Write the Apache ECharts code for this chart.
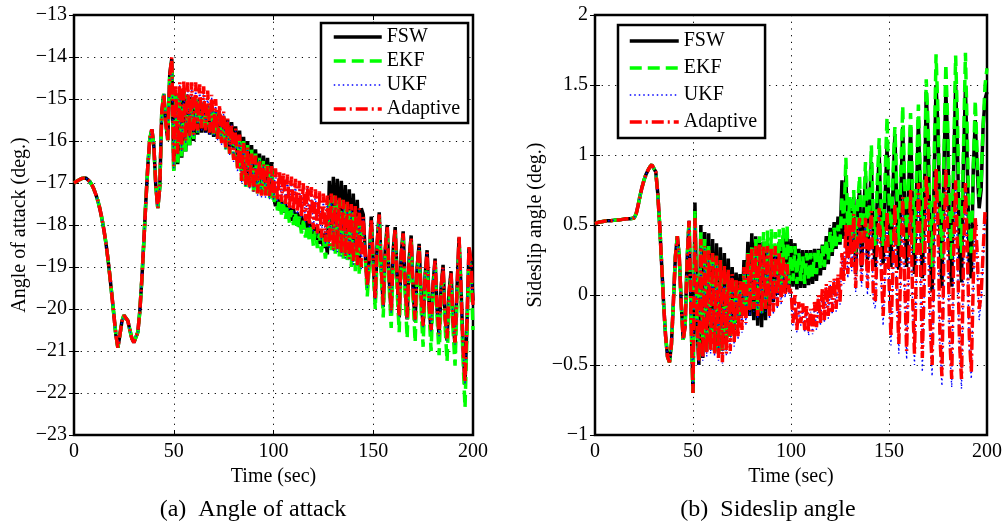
<!DOCTYPE html>
<html>
<head>
<meta charset="utf-8">
<script src="https://cdn.jsdelivr.net/npm/echarts@6/dist/echarts.min.js"></script>
<style>
html,body{margin:0;padding:0;background:#fff;}
#chart{width:1005px;height:523px;}
</style>
</head>
<body>
<div id="chart"></div>
<script>
// ---------- DATA ----------
const seriesNames = ['FSW', 'EKF', 'UKF', 'Adaptive'];
const xTicks = [0, 50, 100, 150, 200];
const aoaTicks = [-23, -22, -21, -20, -19, -18, -17, -16, -15, -14, -13];
const betaTicks = [-1, -0.5, 0, 0.5, 1, 1.5, 2];

// time samples, 1 s steps 0..200
const time = Array.from({length: 201}, (_, i) => i);

// (a) angle of attack, t = 0..47 (all estimators coincide)
const aoaEarly = [
  -17.00, -16.97, -16.94, -16.91, -16.89, -16.88, -16.88, -16.91, -16.97, -17.05,
  -17.15, -17.28, -17.43, -17.62, -17.85, -18.12, -18.43, -18.80, -19.22, -19.68,
  -20.15, -20.62, -20.92, -20.62, -20.30, -20.15, -20.13, -20.28, -20.50, -20.70,
  -20.80, -20.78, -20.55, -20.05, -19.30, -18.40, -17.45, -16.60, -15.95, -15.72,
  -16.10, -17.05, -17.60, -17.10, -15.30, -14.88, -15.55, -15.98
];
// t = 48..200
const aoaFSW = [
  -14.40, -14.05,
  -16.70, -14.90, -16.55, -14.80, -16.40, -14.80, -16.25, -14.90, -16.10, -14.95,
  -16.00, -15.00, -15.85, -15.00, -15.80, -15.10, -15.80, -15.15, -15.85, -15.20,
  -15.90, -15.30, -15.95, -15.35, -16.00, -15.40, -16.10, -15.50, -16.15, -15.55,
  -16.20, -15.65, -16.50, -15.75, -16.70, -15.90, -16.85, -16.00, -16.95, -16.10,
  -17.05, -16.20, -17.15, -16.30, -17.20, -16.35, -17.25, -16.40, -17.30, -16.50,
  -17.30, -17.55, -17.35, -17.65, -17.40, -17.70, -17.50, -17.80, -17.55, -17.90,
  -17.60, -17.95, -17.70, -18.05, -17.75, -18.10, -17.85, -18.20, -17.90, -18.30,
  -18.00, -18.35, -18.05, -18.45, -18.15, -18.55, -18.20, -18.70, -16.95, -18.20,
  -16.85, -18.30, -16.90, -18.35, -16.95, -18.40, -17.05, -18.50, -17.15, -18.60,
  -17.25, -18.70, -17.40, -18.80, -17.60, -17.75, -18.70, -19.50, -18.80, -17.80,
  -18.90, -19.80, -18.40, -17.70, -19.00, -19.95, -18.60, -18.00, -19.30, -20.10,
  -18.60, -18.05, -19.30, -20.20, -18.70, -18.15, -19.40, -20.25, -18.80, -18.25,
  -19.60, -20.30, -19.00, -18.45, -19.70, -20.45, -19.20, -18.60, -19.90, -20.55,
  -19.40, -18.80, -20.00, -20.65, -19.50, -18.95, -20.20, -20.75, -19.60, -19.10,
  -20.30, -20.85, -19.50, -18.30, -19.50, -20.90, -21.80, -20.30, -18.55, -18.90,
  -19.80
];
const aoaEKF = [
  -14.45, -14.10,
  -16.75, -14.90, -16.55, -14.80, -16.40, -14.85, -16.25, -14.90, -16.10, -15.00,
  -15.95, -15.00, -15.80, -15.05, -15.75, -15.10, -15.70, -15.15, -15.75, -15.20,
  -15.85, -15.30, -15.95, -15.40, -16.05, -15.45, -16.20, -15.55, -16.30, -15.70,
  -16.40, -15.80, -16.70, -15.90, -16.95, -16.00, -17.10, -16.10, -17.15, -16.20,
  -17.20, -16.30, -17.25, -16.40, -17.30, -16.45, -17.35, -16.50, -17.40, -16.60,
  -17.50, -17.30, -17.65, -17.40, -17.75, -17.50, -17.85, -17.55, -17.95, -17.65,
  -18.00, -17.70, -18.10, -17.80, -18.20, -17.90, -18.30, -18.00, -18.40, -18.05,
  -18.50, -18.15, -18.55, -18.20, -18.65, -18.30, -18.80, -18.40, -17.40, -18.60,
  -17.30, -18.70, -17.35, -18.75, -17.40, -18.80, -17.50, -18.90, -17.60, -19.00,
  -17.70, -19.10, -17.80, -19.20, -17.90, -17.90, -18.80, -19.70, -19.00, -18.00,
  -19.10, -20.00, -18.70, -17.85, -19.20, -20.20, -18.80, -18.15, -19.50, -20.45,
  -18.90, -18.20, -19.60, -20.55, -19.00, -18.30, -19.70, -20.70, -19.10, -18.40,
  -19.80, -20.80, -19.30, -18.60, -20.00, -20.90, -19.40, -18.80, -20.10, -21.00,
  -19.60, -18.95, -20.20, -21.10, -19.80, -19.10, -20.40, -21.25, -19.90, -19.30,
  -20.50, -21.35, -19.80, -18.50, -19.80, -21.20, -22.35, -20.60, -18.80, -19.10,
  -20.50
];
const aoaUKF = [
  -14.50, -14.05,
  -16.65, -14.75, -16.35, -14.65, -16.25, -14.60, -16.05, -14.65, -15.95, -14.70,
  -15.90, -14.65, -15.80, -14.70, -15.75, -14.75, -15.80, -14.85, -15.85, -14.95,
  -15.90, -15.05, -16.00, -15.20, -16.10, -15.35, -16.20, -15.50, -16.35, -15.60,
  -16.50, -15.75, -16.75, -15.90, -17.00, -16.05, -17.10, -16.20, -17.15, -16.30,
  -17.25, -16.40, -17.30, -16.45, -17.35, -16.55, -17.35, -16.65, -17.40, -16.65,
  -17.40, -16.70, -17.45, -16.75, -17.50, -16.80, -17.55, -16.85, -17.65, -16.90,
  -17.70, -16.95, -17.75, -17.00, -17.85, -17.05, -17.95, -17.10, -18.05, -17.15,
  -18.15, -17.20, -18.25, -17.25, -18.35, -17.30, -18.45, -17.35, -18.55, -17.30,
  -18.65, -17.35, -18.65, -17.40, -18.75, -17.45, -18.80, -17.50, -18.85, -17.55,
  -18.95, -17.60, -19.00, -17.65, -19.05, -17.85, -18.75, -19.50, -18.85, -17.90,
  -18.95, -19.80, -18.45, -17.80, -19.05, -19.95, -18.65, -18.10, -19.35, -20.10,
  -18.65, -18.15, -19.35, -20.20, -18.75, -18.25, -19.45, -20.25, -18.85, -18.35,
  -19.65, -20.30, -19.05, -18.55, -19.75, -20.45, -19.25, -18.70, -19.95, -20.55,
  -19.45, -18.90, -20.05, -20.65, -19.55, -19.05, -20.25, -20.75, -19.65, -19.20,
  -20.35, -20.85, -19.55, -18.30, -19.55, -20.95, -21.80, -20.35, -18.55, -18.95,
  -19.95
];
const aoaAdaptive = [
  -14.45, -14.00,
  -16.60, -14.70, -16.30, -14.60, -16.20, -14.55, -16.00, -14.60, -15.90, -14.60,
  -15.85, -14.60, -15.75, -14.65, -15.70, -14.70, -15.75, -14.80, -15.80, -14.90,
  -15.85, -15.00, -15.95, -15.15, -16.05, -15.30, -16.15, -15.45, -16.30, -15.60,
  -16.45, -15.70, -16.70, -15.85, -16.95, -16.05, -17.05, -16.15, -17.10, -16.30,
  -17.20, -16.35, -17.25, -16.45, -17.30, -16.55, -17.30, -16.60, -17.35, -16.60,
  -17.35, -16.65, -17.40, -16.70, -17.45, -16.75, -17.50, -16.80, -17.60, -16.85,
  -17.65, -16.90, -17.70, -16.95, -17.80, -17.00, -17.90, -17.05, -18.00, -17.10,
  -18.10, -17.15, -18.20, -17.20, -18.30, -17.25, -18.40, -17.30, -18.50, -17.25,
  -18.60, -17.30, -18.60, -17.35, -18.70, -17.40, -18.75, -17.45, -18.80, -17.50,
  -18.90, -17.55, -18.95, -17.60, -19.00, -17.80, -18.70, -19.45, -18.80, -17.85,
  -18.90, -19.75, -18.40, -17.75, -19.00, -19.90, -18.60, -18.05, -19.30, -20.05,
  -18.60, -18.10, -19.30, -20.15, -18.70, -18.20, -19.40, -20.20, -18.80, -18.30,
  -19.60, -20.25, -19.00, -18.50, -19.70, -20.40, -19.20, -18.65, -19.90, -20.50,
  -19.40, -18.85, -20.00, -20.60, -19.50, -19.00, -20.20, -20.70, -19.60, -19.15,
  -20.30, -20.80, -19.50, -18.28, -19.50, -20.90, -21.75, -20.30, -18.50, -18.90,
  -19.90
];

// (b) sideslip angle, t = 0..50 (all estimators coincide)
const betaEarly = [
  0.510, 0.515, 0.520, 0.515, 0.525, 0.520, 0.530, 0.525, 0.530, 0.525,
  0.535, 0.530, 0.535, 0.530, 0.540, 0.535, 0.545, 0.540, 0.545, 0.545,
  0.550, 0.580, 0.640, 0.710, 0.770, 0.820, 0.860, 0.890, 0.915, 0.930,
  0.930, 0.880, 0.730, 0.500, 0.220, -0.060, -0.290, -0.440, -0.480, -0.350,
  -0.050, 0.270, 0.420, 0.270, -0.060, -0.320, -0.220, 0.250, 0.530, -0.150,
  -0.700
];
// t = 51..200
const betaFSW = [
  0.66, -0.20, -0.50, 0.50, -0.45, 0.45, -0.40, 0.44, -0.35,
  0.40, -0.40, 0.37, -0.42, 0.34, -0.40, 0.30, -0.35, 0.26, -0.30,
  0.20, -0.25, 0.16, -0.20, 0.15, -0.15, 0.25, -0.10, 0.38, -0.15,
  0.44, -0.18, 0.42, -0.22, 0.38, -0.23, 0.38, -0.18, 0.37, -0.10,
  0.36, -0.05, 0.35, 0.00, 0.38, 0.00, 0.42, 0.02, 0.42, 0.05,
  0.40, 0.06, 0.37, 0.04, 0.33, 0.05, 0.32, 0.05, 0.32, 0.07,
  0.32, 0.08, 0.33, 0.10, 0.33, 0.14, 0.36, 0.18, 0.42, 0.22,
  0.48, 0.28, 0.52, 0.33, 0.56, 0.36, 0.82, 0.40, 0.85, 0.35,
  0.62, 0.30, 0.70, 0.15, 0.60, 0.75, 0.20, 0.55, 0.85, 0.25,
  0.60, 0.95, 0.40, 0.20, 0.70, 1.00, 0.50, 0.22, 0.70, 1.05,
  0.55, 0.20, 0.75, 1.15, 0.60, 0.18, 0.70, 1.20, 0.65, 0.20,
  0.75, 1.20, 0.60, 0.15, 0.70, 1.25, 0.70, 0.12, 0.60, 1.45,
  1.10, 0.30, 0.02, 0.80, 1.50, 1.20, 0.40, 0.05, 0.90, 1.45,
  1.10, 0.30, 0.06, 0.90, 1.50, 1.00, 0.30, 0.09, 0.95, 1.48,
  0.90, 0.20, 0.12, 0.90, 1.25, 0.90, 0.62, 0.75, 1.20, 1.40,
  1.45
];
const betaEKF = [
  0.60, -0.15, -0.45, 0.45, -0.40, 0.40, -0.38, 0.35, -0.35,
  0.30, -0.40, 0.28, -0.42, 0.25, -0.40, 0.20, -0.35, 0.15, -0.30,
  0.12, -0.25, 0.10, -0.20, 0.08, -0.15, 0.15, -0.10, 0.30, -0.10,
  0.35, -0.10, 0.40, -0.12, 0.42, -0.15, 0.45, -0.10, 0.46, -0.05,
  0.47, 0.00, 0.45, 0.00, 0.47, 0.05, 0.48, 0.05, 0.50, 0.08,
  0.35, 0.10, 0.35, 0.08, 0.30, 0.10, 0.28, 0.08, 0.30, 0.10,
  0.30, 0.12, 0.30, 0.15, 0.32, 0.18, 0.35, 0.20, 0.40, 0.25,
  0.45, 0.30, 0.48, 0.35, 0.50, 0.38, 0.70, 0.50, 0.98, 0.45,
  0.70, 0.40, 0.75, 0.30, 0.65, 0.85, 0.35, 0.60, 0.95, 0.40,
  0.65, 1.07, 0.55, 0.35, 0.80, 1.12, 0.60, 0.35, 0.85, 1.27,
  0.70, 0.35, 0.85, 1.20, 0.75, 0.35, 0.85, 1.35, 0.80, 0.40,
  0.85, 1.30, 0.75, 0.30, 0.85, 1.36, 0.85, 0.30, 0.80, 1.54,
  1.20, 0.50, 0.20, 0.95, 1.72, 1.30, 0.55, 0.25, 1.00, 1.65,
  1.20, 0.50, 0.25, 1.00, 1.71, 1.20, 0.50, 0.30, 1.05, 1.73,
  1.10, 0.45, 0.30, 0.90, 1.39, 1.00, 0.70, 0.80, 1.20, 1.50,
  1.62
];
const betaUKF = [
  0.52, -0.18, -0.50, 0.38, -0.47, 0.33, -0.44, 0.30, -0.42,
  0.28, -0.44, 0.26, -0.47, 0.23, -0.49, 0.20, -0.44, 0.16, -0.42,
  0.13, -0.37, 0.10, -0.32, 0.08, -0.27, 0.18, -0.22, 0.28, -0.15,
  0.31, -0.12, 0.33, -0.17, 0.34, -0.14, 0.33, -0.12, 0.33, -0.17,
  0.31, -0.14, 0.33, -0.10, 0.28, -0.07, 0.26, -0.02, 0.20, 0.00,
  0.03, -0.22, -0.02, -0.27, -0.07, -0.22, -0.08, -0.27, -0.10, -0.29,
  -0.12, -0.28, -0.07, -0.25, -0.02, -0.22, 0.03, -0.20, 0.06, -0.17,
  0.08, -0.14, 0.10, -0.12, 0.13, -0.07, 0.28, 0.08, 0.48, 0.12,
  0.47, 0.17, 0.55, 0.02, 0.42, 0.52, 0.06, 0.37, 0.52, 0.00,
  0.37, 0.57, -0.05, -0.10, 0.32, 0.58, 0.15, -0.22, 0.17, 0.57,
  0.06, -0.36, 0.17, 0.61, 0.00, -0.42, 0.16, 0.66, 0.05, -0.46,
  0.16, 0.70, -0.05, -0.50, 0.16, 0.75, 0.25, -0.55, 0.05, 0.80,
  0.55, -0.28, -0.58, 0.25, 0.85, 0.45, -0.38, -0.65, 0.25, 0.85,
  0.35, -0.38, -0.66, 0.25, 0.78, 0.25, -0.42, -0.67, 0.20, 0.75,
  0.25, -0.38, -0.60, 0.05, 0.50, 0.25, -0.18, -0.05, 0.25, 0.55,
  0.55
];
const betaAdaptive = [
  0.55, -0.15, -0.48, 0.40, -0.45, 0.35, -0.42, 0.32, -0.40,
  0.30, -0.42, 0.28, -0.45, 0.25, -0.48, 0.22, -0.42, 0.18, -0.40,
  0.15, -0.35, 0.12, -0.30, 0.10, -0.25, 0.20, -0.20, 0.30, -0.12,
  0.33, -0.10, 0.35, -0.15, 0.36, -0.12, 0.35, -0.10, 0.35, -0.15,
  0.33, -0.12, 0.35, -0.08, 0.30, -0.05, 0.28, 0.00, 0.22, 0.02,
  0.05, -0.20, 0.00, -0.25, -0.05, -0.20, -0.06, -0.25, -0.08, -0.27,
  -0.10, -0.26, -0.05, -0.23, 0.00, -0.20, 0.05, -0.18, 0.08, -0.15,
  0.10, -0.12, 0.12, -0.10, 0.15, -0.05, 0.30, 0.10, 0.50, 0.15,
  0.50, 0.20, 0.58, 0.05, 0.45, 0.55, 0.10, 0.40, 0.55, 0.05,
  0.40, 0.60, 0.00, -0.05, 0.35, 0.62, 0.20, -0.15, 0.20, 0.60,
  0.10, -0.30, 0.20, 0.65, 0.05, -0.35, 0.20, 0.70, 0.10, -0.40,
  0.20, 0.75, 0.00, -0.42, 0.20, 0.80, 0.30, -0.45, 0.10, 0.85,
  0.60, -0.20, -0.50, 0.30, 0.90, 0.50, -0.30, -0.58, 0.30, 0.90,
  0.40, -0.30, -0.60, 0.30, 0.82, 0.30, -0.35, -0.60, 0.25, 0.80,
  0.30, -0.30, -0.55, 0.10, 0.55, 0.30, -0.10, 0.00, 0.30, 0.60,
  0.60
];

// ---------- CHART ----------
const FONT = "'Liberation Serif', 'DejaVu Serif', serif";
const FS = 20;
const minus = v => String(v).replace('-', '\u2212');
function pairs(early, late) {
  const vals = early.concat(late);
  return time.map((t, i) => [t, vals[i]]);
}
const styles = {
  FSW:      {color: '#000000', width: 3.5, type: 'solid', z: 2},
  EKF:      {color: '#00ff00', width: 3.5, type: [12, 6], z: 3},
  UKF:      {color: '#0000ff', width: 1.4, type: [1.5, 3], z: 4},
  Adaptive: {color: '#ff0000', width: 3.5, type: [12, 4, 2, 4], z: 5}
};
function mkSeries(name, data, idx) {
  const s = styles[name];
  return {
    name, type: 'line', data, xAxisIndex: idx, yAxisIndex: idx,
    showSymbol: false, symbol: 'none', smooth: false, z: s.z,
    lineStyle: {color: s.color, width: s.width, type: s.type},
    itemStyle: {color: s.color},
    emphasis: {disabled: true}
  };
}
function xAx(grid, pos) {
  return {
    type: 'value', gridIndex: grid, position: pos, min: 0, max: 200, interval: 50,
    axisLine: {show: false},
    axisTick: {show: true, inside: true, length: 5, lineStyle: {color: '#000', width: 1}},
    axisLabel: {show: pos === 'bottom', color: '#000', fontFamily: FONT, fontSize: FS, margin: 7},
    splitLine: {show: pos === 'bottom', lineStyle: {color: '#000', width: 1, type: [1.2, 5.5]}},
    name: pos === 'bottom' ? 'Time (sec)' : '', nameLocation: 'middle', nameGap: 29,
    nameTextStyle: {color: '#000', fontFamily: FONT, fontSize: FS}
  };
}
function yAx(grid, pos, min, max, step, name, gap) {
  return {
    type: 'value', gridIndex: grid, position: pos, min, max, interval: step,
    axisLine: {show: false},
    axisTick: {show: true, inside: true, length: 5, lineStyle: {color: '#000', width: 1}},
    axisLabel: {show: pos === 'left', color: '#000', fontFamily: FONT, fontSize: FS, margin: 7, formatter: minus},
    splitLine: {show: pos === 'left', lineStyle: {color: '#000', width: 1, type: [1.2, 5.5]}},
    name: pos === 'left' ? name : '', nameLocation: 'middle', nameGap: gap, nameRotate: 90,
    nameTextStyle: {color: '#000', fontFamily: FONT, fontSize: FS}
  };
}
function legend(left, top, gap, pad, iw) {
  return {
    data: seriesNames.map(n => ({
      name: n,
      lineStyle: {width: styles[n].width, type: styles[n].type, color: styles[n].color}
    })),
    orient: 'vertical', left, top,
    backgroundColor: '#fff', borderColor: '#000', borderWidth: 2.5, borderRadius: 0,
    padding: pad, itemWidth: iw, itemHeight: 14, itemGap: gap,
    itemStyle: {opacity: 0},
    textStyle: {color: '#000', fontFamily: FONT, fontSize: FS},
    selectedMode: false, z: 20
  };
}

const chart = echarts.init(document.getElementById('chart'), null, {renderer: 'canvas'});
chart.setOption({
  animation: false,
  backgroundColor: '#fff',
  grid: [
    {left: 74, top: 15, width: 399, height: 420, show: true, borderColor: '#000', borderWidth: 2.5, backgroundColor: 'transparent'},
    {left: 595, top: 15, width: 393, height: 420, show: true, borderColor: '#000', borderWidth: 2.5, backgroundColor: 'transparent'}
  ],
  xAxis: [xAx(0, 'bottom'), xAx(0, 'top'), xAx(1, 'bottom'), xAx(1, 'top')],
  yAxis: [
    yAx(0, 'left', aoaTicks[0], aoaTicks[aoaTicks.length - 1], 1, 'Angle of attack (deg.)', 44),
    yAx(0, 'right', aoaTicks[0], aoaTicks[aoaTicks.length - 1], 1, '', 0),
    yAx(1, 'left', betaTicks[0], betaTicks[betaTicks.length - 1], 0.5, 'Sideslip angle (deg.)', 49),
    yAx(1, 'right', betaTicks[0], betaTicks[betaTicks.length - 1], 0.5, '', 0)
  ],
  legend: [
    legend(321, 23, 4, [4, 8, 4, 11], 48),
    legend(618, 25, 7, [6, 8, 6, 10], 49)
  ],
  graphic: [
    {type: 'text', x: 253, y: 498, z: 30, silent: true,
     style: {text: '(a)  Angle of attack', fill: '#000', font: "24px " + FONT, textAlign: 'center'}},
    {type: 'text', x: 768, y: 498, z: 30, silent: true,
     style: {text: '(b)  Sideslip angle', fill: '#000', font: "24px " + FONT, textAlign: 'center'}}
  ],
  series: [
    mkSeries('FSW', pairs(aoaEarly, aoaFSW), 0),
    mkSeries('EKF', pairs(aoaEarly, aoaEKF), 0),
    mkSeries('UKF', pairs(aoaEarly, aoaUKF), 0),
    mkSeries('Adaptive', pairs(aoaEarly, aoaAdaptive), 0),
    mkSeries('FSW', pairs(betaEarly, betaFSW), 2),
    mkSeries('EKF', pairs(betaEarly, betaEKF), 2),
    mkSeries('UKF', pairs(betaEarly, betaUKF), 2),
    mkSeries('Adaptive', pairs(betaEarly, betaAdaptive), 2)
  ]
});
</script>
</body>
</html>
